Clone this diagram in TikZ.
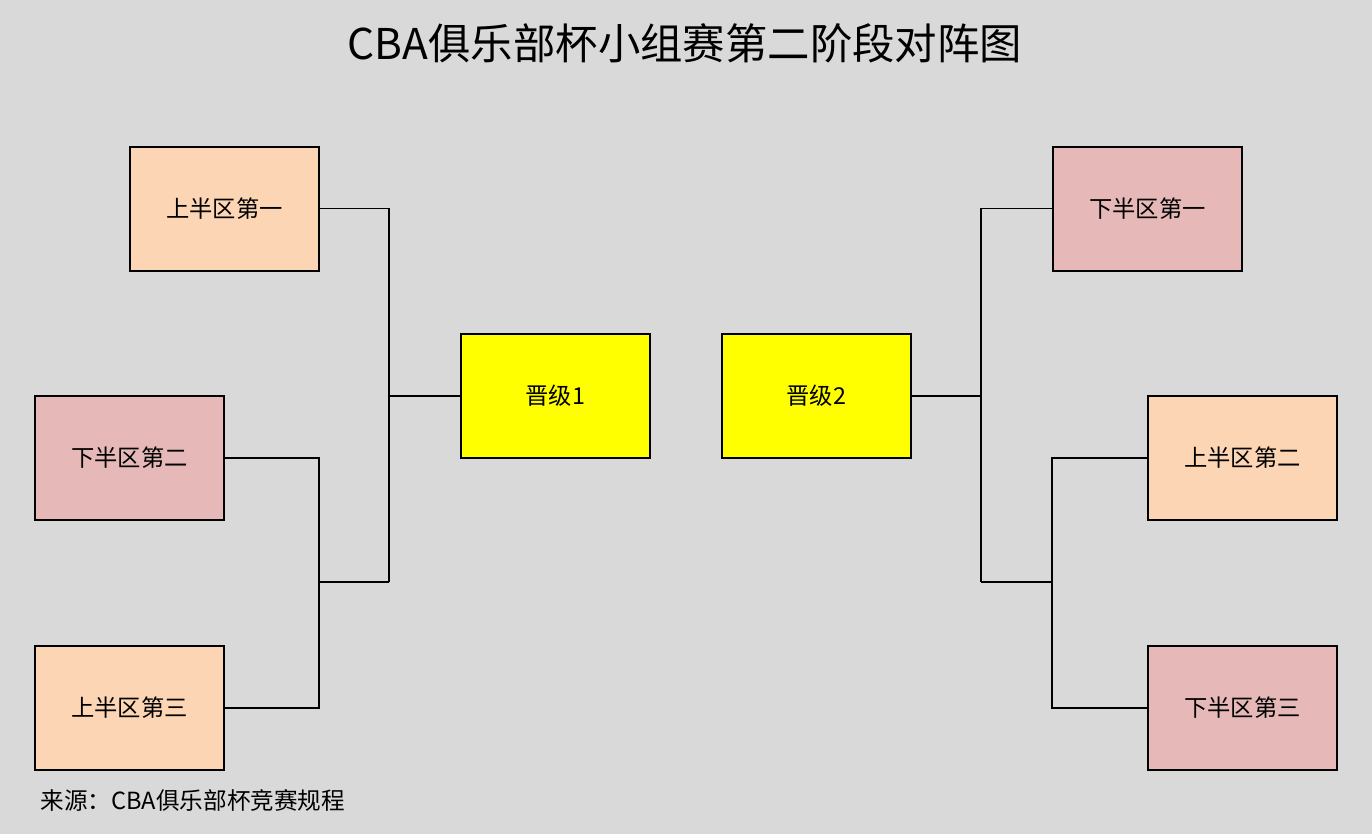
\documentclass[tikz,border=0pt]{standalone}
\usepackage{fontspec}
\setmainfont{Noto Sans CJK SC}
\definecolor{bgc}{HTML}{D9D9D9}
\definecolor{peach}{HTML}{FCD5B4}
\definecolor{pinkc}{HTML}{E6B9B8}
\definecolor{yel}{HTML}{FFFF00}
\begin{document}
\begin{tikzpicture}[x=1pt,y=-1pt,
  team/.style={draw=black,line width=1.8pt,minimum width=189pt,minimum height=124pt,inner sep=0pt,font=\fontsize{23.3}{26}\selectfont,anchor=north west},
  up/.style={team,fill=peach},
  dn/.style={team,fill=pinkc},
  adv/.style={team,fill=yel},
  conn/.style={draw=black,line width=1.2pt}]
\fill[bgc] (0,0) rectangle (1372,834);
\useasboundingbox (0,0) rectangle (1372,834);
\node[font=\fontsize{42.4}{48}\selectfont] (title) at (685,43) {CBA俱乐部杯小组赛第二阶段对阵图};
\node[anchor=west,font=\fontsize{23.6}{26}\selectfont] (src) at (37,800) {来源：CBA俱乐部杯竞赛规程};
% left
\node[up] (u1) at (129,146) {上半区第一};
\node[dn] (d2) at (34,395) {下半区第二};
\node[up] (u3) at (34,645) {上半区第三};
\node[adv] (j1) at (460,333) {晋级1};
% right
\node[dn] (d1) at (1052,146) {下半区第一};
\node[up] (u2) at (1147,395) {上半区第二};
\node[dn] (d3) at (1147,645) {下半区第三};
\node[adv] (j2) at (721,333) {晋级2};
% left bracket
\coordinate (la) at (389,582);
\coordinate (lb) at (319,582);
\draw[conn] (u1.east) -| (la);
\draw[conn] (la) -- (lb);
\draw[conn] (j1.west) -- (j1.west -| la);
\draw[conn] (d2.east) -| (lb);
\draw[conn] (u3.east) -| (lb);
% right bracket
\coordinate (ra) at (981,582);
\coordinate (rb) at (1052,582);
\draw[conn] (d1.west) -| (ra);
\draw[conn] (ra) -- (rb);
\draw[conn] (j2.east) -- (j2.east -| ra);
\draw[conn] (u2.west) -| (rb);
\draw[conn] (d3.west) -| (rb);
\end{tikzpicture}
\end{document}
